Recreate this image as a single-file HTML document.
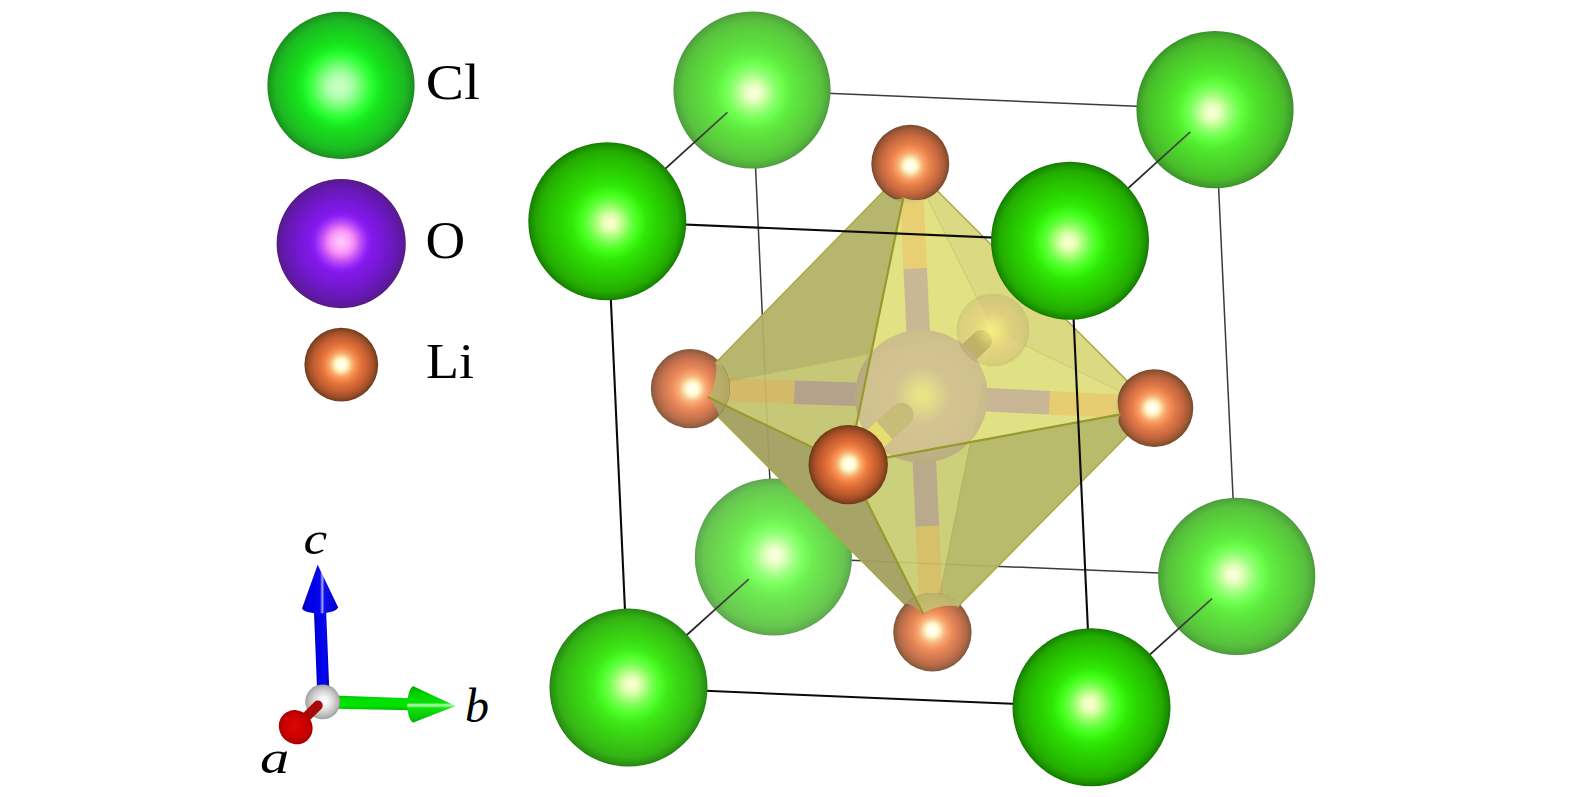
<!DOCTYPE html>
<html lang="en">
<head>
<meta charset="utf-8">
<title>Li3OCl anti-perovskite crystal structure</title>
<style>
html,body{margin:0;padding:0;background:#fff;}
body{width:1575px;height:797px;overflow:hidden;}
svg{display:block;}
.lab{font-family:"Liberation Serif",serif;font-size:52px;fill:#000;}
.it{font-family:"Liberation Serif",serif;font-style:italic;font-size:50px;fill:#000;}
.bk{stroke:#3c3c3c;stroke-width:1.5;}
.dp{stroke:#2a2a2a;stroke-width:1.8;}
.fr{stroke:#0a0a0a;stroke-width:2.1;}
.pe{stroke:#969a2c;stroke-width:2.2;stroke-linecap:round;}
.ps{stroke:#a8ac48;stroke-width:1.5;stroke-linecap:round;}
.be{stroke:#8c9030;stroke-width:1.3;stroke-opacity:0.17;}
</style>
</head>
<body>
<svg width="1575" height="797" viewBox="0 0 1575 797">
<defs><radialGradient id="gClF" cx="0.5" cy="0.5" r="0.5" fx="0.5" fy="0.5"><stop offset="0" stop-color="#fcffcc"/><stop offset="0.06" stop-color="#e4ffbc"/><stop offset="0.165" stop-color="#b0ff80"/><stop offset="0.27" stop-color="#70ff48"/><stop offset="0.37" stop-color="#40ff18"/><stop offset="0.475" stop-color="#2fe806"/><stop offset="0.61" stop-color="#2ad400"/><stop offset="0.75" stop-color="#27c200"/><stop offset="0.89" stop-color="#23ac00"/><stop offset="0.97" stop-color="#198c00"/><stop offset="1" stop-color="#137800"/></radialGradient><radialGradient id="gClB" cx="0.5" cy="0.5" r="0.5" fx="0.5" fy="0.5"><stop offset="0" stop-color="#f9ffd2"/><stop offset="0.1" stop-color="#e0ffc0"/><stop offset="0.2" stop-color="#b8ff98"/><stop offset="0.31" stop-color="#88ff68"/><stop offset="0.41" stop-color="#68ff44"/><stop offset="0.48" stop-color="#60f040"/><stop offset="0.62" stop-color="#58dc3c"/><stop offset="0.76" stop-color="#56c83c"/><stop offset="0.9" stop-color="#52b83c"/><stop offset="0.97" stop-color="#4a9c38"/><stop offset="1" stop-color="#428a32"/></radialGradient><radialGradient id="gClL" cx="0.5" cy="0.5" r="0.5" fx="0.484" fy="0.509"><stop offset="0" stop-color="#c8ffc4"/><stop offset="0.07" stop-color="#c4ffc0"/><stop offset="0.17" stop-color="#a8ffa8"/><stop offset="0.24" stop-color="#88ff88"/><stop offset="0.306" stop-color="#68ff6c"/><stop offset="0.375" stop-color="#44ff48"/><stop offset="0.44" stop-color="#28ff30"/><stop offset="0.51" stop-color="#1cf024"/><stop offset="0.61" stop-color="#16de1a"/><stop offset="0.745" stop-color="#1acc1e"/><stop offset="0.88" stop-color="#1cb822"/><stop offset="0.97" stop-color="#1c9a20"/><stop offset="1" stop-color="#1a881e"/></radialGradient><radialGradient id="gLi" cx="0.5" cy="0.5" r="0.5" fx="0.5" fy="0.54"><stop offset="0" stop-color="#fffff6"/><stop offset="0.06" stop-color="#ffffe8"/><stop offset="0.15" stop-color="#ffffcc"/><stop offset="0.22" stop-color="#ffe0a8"/><stop offset="0.3" stop-color="#ffc080"/><stop offset="0.41" stop-color="#ff9c5c"/><stop offset="0.48" stop-color="#f08850"/><stop offset="0.6" stop-color="#e07848"/><stop offset="0.75" stop-color="#cc6c38"/><stop offset="0.9" stop-color="#b05a30"/><stop offset="1" stop-color="#8c4a28"/></radialGradient><radialGradient id="gLi2" cx="0.5" cy="0.5" r="0.5" fx="0.5" fy="0.5"><stop offset="0" stop-color="#fffff6"/><stop offset="0.06" stop-color="#ffffe8"/><stop offset="0.15" stop-color="#ffffcc"/><stop offset="0.22" stop-color="#ffe0a8"/><stop offset="0.3" stop-color="#ffc080"/><stop offset="0.41" stop-color="#ff9c5c"/><stop offset="0.48" stop-color="#f08850"/><stop offset="0.6" stop-color="#e07848"/><stop offset="0.75" stop-color="#cc6c38"/><stop offset="0.9" stop-color="#b05a30"/><stop offset="1" stop-color="#8c4a28"/></radialGradient><radialGradient id="gLiN" cx="0.5" cy="0.5" r="0.5" fx="0.5" fy="0.5"><stop offset="0" stop-color="#ffffff"/><stop offset="0.11" stop-color="#ffffe0"/><stop offset="0.18" stop-color="#fff0b8"/><stop offset="0.255" stop-color="#f8c888"/><stop offset="0.33" stop-color="#f4a464"/><stop offset="0.4" stop-color="#f88c50"/><stop offset="0.475" stop-color="#ec7c40"/><stop offset="0.58" stop-color="#dc6c34"/><stop offset="0.73" stop-color="#c45c30"/><stop offset="0.875" stop-color="#a04c24"/><stop offset="0.96" stop-color="#7c401c"/><stop offset="1" stop-color="#6c3818"/></radialGradient><radialGradient id="gLiF" cx="0.5" cy="0.5" r="0.5" fx="0.5" fy="0.5"><stop offset="0" stop-color="#fffff0"/><stop offset="0.07" stop-color="#ffffe4"/><stop offset="0.19" stop-color="#fff4c8"/><stop offset="0.26" stop-color="#fcd4a0"/><stop offset="0.34" stop-color="#fcb07c"/><stop offset="0.41" stop-color="#fc9c64"/><stop offset="0.53" stop-color="#f08c58"/><stop offset="0.68" stop-color="#d88050"/><stop offset="0.83" stop-color="#c07448"/><stop offset="0.97" stop-color="#a46038"/><stop offset="1" stop-color="#96582f"/></radialGradient><radialGradient id="gO" cx="0.5" cy="0.5" r="0.5" fx="0.5" fy="0.485"><stop offset="0" stop-color="#fdc8fc"/><stop offset="0.05" stop-color="#fcc0fc"/><stop offset="0.147" stop-color="#fca0f8"/><stop offset="0.215" stop-color="#ec80f8"/><stop offset="0.285" stop-color="#c858f4"/><stop offset="0.355" stop-color="#a838f8"/><stop offset="0.42" stop-color="#8c20f4"/><stop offset="0.49" stop-color="#8218e8"/><stop offset="0.6" stop-color="#7a18dc"/><stop offset="0.73" stop-color="#7018c8"/><stop offset="0.875" stop-color="#6418b0"/><stop offset="0.98" stop-color="#5a1a90"/><stop offset="1" stop-color="#501880"/></radialGradient><radialGradient id="gO2" cx="0.5" cy="0.5" r="0.5" fx="0.51" fy="0.49"><stop offset="0" stop-color="#fff070"/><stop offset="0.1" stop-color="#f6dc80"/><stop offset="0.25" stop-color="#c898a8"/><stop offset="0.42" stop-color="#9c50b4"/><stop offset="0.7" stop-color="#9448b4"/><stop offset="0.9" stop-color="#8840a8"/><stop offset="1" stop-color="#7c3898"/></radialGradient><radialGradient id="gOin" cx="0.5" cy="0.5" r="0.5" fx="0.5" fy="0.52"><stop offset="0" stop-color="#ece488"/><stop offset="0.2" stop-color="#dcd088"/><stop offset="0.5" stop-color="#d0c08c"/><stop offset="0.85" stop-color="#c8b888"/><stop offset="1" stop-color="#bcae80"/></radialGradient><radialGradient id="gKin" cx="0.5" cy="0.5" r="0.5" fx="0.5" fy="0.5"><stop offset="0" stop-color="#f4e890"/><stop offset="0.4" stop-color="#eadc84"/><stop offset="1" stop-color="#e0d47c"/></radialGradient><radialGradient id="gGrey" cx="0.5" cy="0.5" r="0.5" fx="0.55" fy="0.46"><stop offset="0" stop-color="#ffffff"/><stop offset="0.25" stop-color="#f4f4f4"/><stop offset="0.6" stop-color="#d4d4d4"/><stop offset="0.88" stop-color="#b4b4b4"/><stop offset="1" stop-color="#9a9a9a"/></radialGradient><linearGradient id="gBlueS" x1="0" y1="0" x2="1" y2="0"><stop offset="0" stop-color="#0000b8"/><stop offset="0.3" stop-color="#0000e4"/><stop offset="0.7" stop-color="#0808f0"/><stop offset="1" stop-color="#0000c4"/></linearGradient><linearGradient id="gBlueC" x1="0" y1="0" x2="1" y2="0"><stop offset="0" stop-color="#0000c4"/><stop offset="0.3" stop-color="#0000e8"/><stop offset="0.5" stop-color="#0808ee"/><stop offset="0.56" stop-color="#a8a8ff"/><stop offset="0.62" stop-color="#1010ec"/><stop offset="1" stop-color="#0000cc"/></linearGradient><linearGradient id="gGreenS" x1="0" y1="0" x2="0" y2="1"><stop offset="0" stop-color="#10b810"/><stop offset="0.25" stop-color="#00e000"/><stop offset="0.7" stop-color="#00e400"/><stop offset="1" stop-color="#00b800"/></linearGradient><linearGradient id="gGreenC" x1="0" y1="0" x2="0" y2="1"><stop offset="0" stop-color="#00a800"/><stop offset="0.25" stop-color="#00d400"/><stop offset="0.46" stop-color="#08e008"/><stop offset="0.52" stop-color="#b8ffb8"/><stop offset="0.6" stop-color="#10e410"/><stop offset="1" stop-color="#00b400"/></linearGradient><radialGradient id="gRed" cx="0.5" cy="0.5" r="0.5" fx="0.5" fy="0.45"><stop offset="0" stop-color="#dc0808"/><stop offset="0.6" stop-color="#cc0000"/><stop offset="0.9" stop-color="#b80000"/><stop offset="1" stop-color="#a80000"/></radialGradient></defs>
<rect width="1575" height="797" fill="#ffffff"/>
<circle cx="341.0" cy="85.4" r="73.6" fill="url(#gClL)" />
<circle cx="341.2" cy="243.6" r="64.6" fill="url(#gO)" />
<radialGradient id="s1" cx="0.5" cy="0.5" r="0.5" fx="0.5" fy="0.5"><stop offset="0" stop-color="#ffffff"/><stop offset="0.11" stop-color="#ffffe0"/><stop offset="0.18" stop-color="#fff0b9"/><stop offset="0.255" stop-color="#f8c98a"/><stop offset="0.33" stop-color="#f4a566"/><stop offset="0.4" stop-color="#f88e53"/><stop offset="0.475" stop-color="#ec7e43"/><stop offset="0.58" stop-color="#dd6e37"/><stop offset="0.73" stop-color="#c55f33"/><stop offset="0.875" stop-color="#a24f28"/><stop offset="0.96" stop-color="#7e4320"/><stop offset="1" stop-color="#6e3b1c"/></radialGradient><circle cx="341.3" cy="364.6" r="36.9" fill="url(#s1)" />
<text transform="translate(425.80,99.00) scale(1.128,1)" font-family="Liberation Serif, serif" font-size="50.7" fill="#000">Cl</text>
<text transform="translate(425.60,258.00) scale(1.056,1)" font-family="Liberation Serif, serif" font-size="52" fill="#000">O</text>
<text transform="translate(426.10,377.90) scale(1.08,1)" font-family="Liberation Serif, serif" font-size="50" fill="#000">Li</text>
<polygon points="313.9,610.0 326.1,610.0 329.3,690.0 317.1,690.0" fill="url(#gBlueS)" />
<path d="M317.7,564.8 L338.2,607.6 Q336,612.4 320,613.6 Q304,612.8 302,608.4 Z" fill="url(#gBlueC)"/>
<polygon points="334.0,695.5 410.0,698.2 410.0,710.3 334.0,708.8" fill="url(#gGreenS)" />
<path d="M455.6,705.9 L412.9,722.8 Q407.6,719 407.2,704.4 Q407.8,690 412.9,685.9 Z" fill="url(#gGreenC)"/>
<circle cx="322.7" cy="701.9" r="17.4" fill="url(#gGrey)" />
<line x1="299" y1="724" x2="317.8" y2="705.4" stroke="#a80808" stroke-width="9.8" stroke-linecap="round"/>
<ellipse cx="295.7" cy="727.2" rx="16.4" ry="17.6" fill="url(#gRed)" transform="rotate(-40 295.7 727.2)"/>
<text transform="translate(303.50,554.00) scale(1.14,1)" font-family="Liberation Serif, serif" font-size="46.7" font-style="italic" fill="#000">c</text>
<text transform="translate(465.00,721.80) scale(1.0,1)" font-family="Liberation Serif, serif" font-size="48" font-style="italic" fill="#000">b</text>
<text transform="translate(260.10,773.00) scale(1.236,1)" font-family="Liberation Serif, serif" font-size="47.4" font-style="italic" fill="#000">a</text>
<line x1="752.0" y1="90.0" x2="1215.0" y2="109.6" class="bk"/>
<line x1="752.0" y1="90.0" x2="773.4" y2="557.0" class="bk"/>
<line x1="1215.0" y1="109.6" x2="1236.7" y2="576.3" class="bk"/>
<line x1="773.4" y1="557.0" x2="1236.7" y2="576.3" class="bk"/>
<radialGradient id="s2" cx="0.5" cy="0.5" r="0.5" fx="0.5121055979643766" fy="0.5216921119592876"><stop offset="0" stop-color="#fdffd8"/><stop offset="0.05" stop-color="#f5ffd4"/><stop offset="0.11" stop-color="#e1ffbd"/><stop offset="0.18" stop-color="#bdff99"/><stop offset="0.27" stop-color="#8fff71"/><stop offset="0.37" stop-color="#6eff50"/><stop offset="0.475" stop-color="#61ee42"/><stop offset="0.61" stop-color="#5dde3d"/><stop offset="0.75" stop-color="#5bd13d"/><stop offset="0.89" stop-color="#58c03d"/><stop offset="0.97" stop-color="#50a83d"/><stop offset="1" stop-color="#4c993d"/></radialGradient><circle cx="752.0" cy="90.0" r="78.6" fill="url(#s2)" />
<radialGradient id="s3" cx="0.5" cy="0.5" r="0.5" fx="0.47970737913486006" fy="0.5203206106870228"><stop offset="0" stop-color="#fcffd4"/><stop offset="0.05" stop-color="#f4ffcf"/><stop offset="0.11" stop-color="#deffb6"/><stop offset="0.18" stop-color="#b6ff8e"/><stop offset="0.27" stop-color="#84ff63"/><stop offset="0.37" stop-color="#60ff3e"/><stop offset="0.475" stop-color="#52ec2f"/><stop offset="0.61" stop-color="#4ddb2a"/><stop offset="0.75" stop-color="#4bcc2a"/><stop offset="0.89" stop-color="#48ba2a"/><stop offset="0.97" stop-color="#3f9f2a"/><stop offset="1" stop-color="#3a8e2a"/></radialGradient><circle cx="1215.0" cy="109.6" r="78.6" fill="url(#s3)" />
<radialGradient id="s4" cx="0.5" cy="0.5" r="0.5" fx="0.5106081424936387" fy="0.4890139949109415"><stop offset="0" stop-color="#fdffdc"/><stop offset="0.05" stop-color="#f6ffd8"/><stop offset="0.11" stop-color="#e4ffc3"/><stop offset="0.18" stop-color="#c3ffa2"/><stop offset="0.27" stop-color="#99ff7e"/><stop offset="0.37" stop-color="#7bff5f"/><stop offset="0.475" stop-color="#6fef53"/><stop offset="0.61" stop-color="#6ce14f"/><stop offset="0.75" stop-color="#6ad54f"/><stop offset="0.89" stop-color="#67c64f"/><stop offset="0.97" stop-color="#60b04f"/><stop offset="1" stop-color="#5ca24f"/></radialGradient><circle cx="773.4" cy="557.0" r="78.6" fill="url(#s4)" />
<radialGradient id="s5" cx="0.5" cy="0.5" r="0.5" fx="0.4781889312977099" fy="0.4876634860050891"><stop offset="0" stop-color="#fdffd8"/><stop offset="0.05" stop-color="#f5ffd3"/><stop offset="0.11" stop-color="#e1ffbc"/><stop offset="0.18" stop-color="#bcff98"/><stop offset="0.27" stop-color="#8eff70"/><stop offset="0.37" stop-color="#6dff4e"/><stop offset="0.475" stop-color="#60ed40"/><stop offset="0.61" stop-color="#5cde3c"/><stop offset="0.75" stop-color="#5ad03c"/><stop offset="0.89" stop-color="#57bf3c"/><stop offset="0.97" stop-color="#4fa73c"/><stop offset="1" stop-color="#4a983c"/></radialGradient><circle cx="1236.7" cy="576.3" r="78.6" fill="url(#s5)" />
<linearGradient id="dl0" gradientUnits="userSpaceOnUse" x1="607.3" y1="221.3" x2="727.4" y2="112.3"><stop offset="0.35" stop-color="#101010"/><stop offset="1" stop-color="#505050"/></linearGradient>
<line x1="607.3" y1="221.3" x2="727.4" y2="112.3" stroke="url(#dl0)" stroke-width="1.8"/>
<linearGradient id="dl1" gradientUnits="userSpaceOnUse" x1="1070.0" y1="240.8" x2="1190.3" y2="131.9"><stop offset="0.35" stop-color="#101010"/><stop offset="1" stop-color="#505050"/></linearGradient>
<line x1="1070.0" y1="240.8" x2="1190.3" y2="131.9" stroke="url(#dl1)" stroke-width="1.8"/>
<linearGradient id="dl2" gradientUnits="userSpaceOnUse" x1="628.5" y1="687.5" x2="748.8" y2="579.2"><stop offset="0.35" stop-color="#101010"/><stop offset="1" stop-color="#505050"/></linearGradient>
<line x1="628.5" y1="687.5" x2="748.8" y2="579.2" stroke="url(#dl2)" stroke-width="1.8"/>
<linearGradient id="dl3" gradientUnits="userSpaceOnUse" x1="1091.5" y1="707.2" x2="1212.0" y2="598.6"><stop offset="0.35" stop-color="#101010"/><stop offset="1" stop-color="#505050"/></linearGradient>
<line x1="1091.5" y1="707.2" x2="1212.0" y2="598.6" stroke="url(#dl3)" stroke-width="1.8"/>
<defs><clipPath id="cTLF"><polygon points="910.3,163.7 690.4,388.7 848.2,464.6"/></clipPath><clipPath id="cTFR"><polygon points="910.3,163.7 848.2,464.6 1154.4,408.1"/></clipPath><clipPath id="cLFB"><polygon points="690.4,388.7 848.2,464.6 932.4,632.3"/></clipPath><clipPath id="cFRB"><polygon points="848.2,464.6 1154.4,408.1 932.4,632.3"/></clipPath></defs>
<polygon points="910.3,163.7 1154.4,408.1 932.4,632.3 690.4,388.7" fill="#dcdc84" fill-opacity="0.95"/>
<g clip-path="url(#cTLF)"><polygon points="910.3,163.7 690.4,388.7 993.0,330.0" fill="#b6b66e" stroke="#b6b66e" stroke-width="0.8"/><polygon points="690.4,388.7 993.0,330.0 932.4,632.3" fill="#c6c878" stroke="#c6c878" stroke-width="0.8"/><polygon points="910.3,163.7 993.0,330.0 1154.4,408.1" fill="#b6b66e" stroke="#b6b66e" stroke-width="0.8"/><polygon points="993.0,330.0 1154.4,408.1 932.4,632.3" fill="#c6c878" stroke="#c6c878" stroke-width="0.8"/></g>
<g clip-path="url(#cTFR)"><polygon points="910.3,163.7 690.4,388.7 993.0,330.0" fill="#e2e286" stroke="#e2e286" stroke-width="0.8"/><polygon points="910.3,163.7 993.0,330.0 1154.4,408.1" fill="#dbda83" stroke="#dbda83" stroke-width="0.8"/><polygon points="993.0,330.0 1154.4,408.1 932.4,632.3" fill="#e0e084" stroke="#e0e084" stroke-width="0.8"/><polygon points="690.4,388.7 993.0,330.0 932.4,632.3" fill="#e4e488" stroke="#e4e488" stroke-width="0.8"/></g>
<g clip-path="url(#cFRB)"><polygon points="690.4,388.7 993.0,330.0 932.4,632.3" fill="#ccd07a" stroke="#ccd07a" stroke-width="0.8"/><polygon points="993.0,330.0 1154.4,408.1 932.4,632.3" fill="#b9bb6c" stroke="#b9bb6c" stroke-width="0.8"/><polygon points="910.3,163.7 690.4,388.7 993.0,330.0" fill="#ccd07a" stroke="#ccd07a" stroke-width="0.8"/><polygon points="910.3,163.7 993.0,330.0 1154.4,408.1" fill="#b9bb6c" stroke="#b9bb6c" stroke-width="0.8"/></g>
<g clip-path="url(#cLFB)"><polygon points="690.4,388.7 993.0,330.0 932.4,632.3" fill="#a8a468" stroke="#a8a468" stroke-width="0.8"/><polygon points="993.0,330.0 1154.4,408.1 932.4,632.3" fill="#a8a468" stroke="#a8a468" stroke-width="0.8"/><polygon points="910.3,163.7 690.4,388.7 993.0,330.0" fill="#a8a468" stroke="#a8a468" stroke-width="0.8"/><polygon points="910.3,163.7 993.0,330.0 1154.4,408.1" fill="#a8a468" stroke="#a8a468" stroke-width="0.8"/></g>
<clipPath id="cHull"><polygon points="910.3,163.7 1154.4,408.1 932.4,632.3 690.4,388.7"/></clipPath>
<g opacity="0.09" clip-path="url(#cHull)"><line x1="752.0" y1="90.0" x2="769.1" y2="463.6" class="bk"/><line x1="856.8" y1="560.5" x2="1236.7" y2="576.3" class="bk"/></g>
<line x1="910.3" y1="163.7" x2="977.4" y2="298.7" class="be"/>
<line x1="1154.4" y1="408.1" x2="1024.5" y2="345.2" class="be"/>
<line x1="690.4" y1="388.7" x2="870.2" y2="353.8" class="be"/>
<line x1="932.4" y1="632.3" x2="970.8" y2="440.8" class="be"/>
<g opacity="0.17"><radialGradient id="s6" cx="0.5" cy="0.5" r="0.5" fx="0.5" fy="0.5"><stop offset="0" stop-color="#ffffff"/><stop offset="0.11" stop-color="#ffffe7"/><stop offset="0.18" stop-color="#fff4c9"/><stop offset="0.255" stop-color="#fad5a4"/><stop offset="0.33" stop-color="#f7ba89"/><stop offset="0.4" stop-color="#faa77a"/><stop offset="0.475" stop-color="#f19b6d"/><stop offset="0.58" stop-color="#e48f64"/><stop offset="0.73" stop-color="#d28361"/><stop offset="0.875" stop-color="#b77758"/><stop offset="0.96" stop-color="#9b6d52"/><stop offset="1" stop-color="#8f674f"/></radialGradient><circle cx="993.0" cy="330.0" r="36.0" fill="url(#s6)" /></g>
<circle cx="993.0" cy="330.0" r="36" fill="none" stroke="#b0a040" stroke-opacity="0.14" stroke-width="1.5"/>
<clipPath id="cNotO"><path clip-rule="evenodd" d="M0,0H1575V797H0Z M854.8,396.4 a66.5,66.5 0 1,0 133.0,0 a66.5,66.5 0 1,0 -133.0,0Z"/></clipPath>
<g clip-path="url(#cNotO)"><line x1="966" y1="355" x2="981.5" y2="340.6" stroke="#b4a660" stroke-width="21" stroke-linecap="round" stroke-opacity="0.75"/></g>
<radialGradient id="gKh"><stop offset="0" stop-color="#faf07c" stop-opacity="0.9"/><stop offset="0.5" stop-color="#f4e674" stop-opacity="0.45"/><stop offset="1" stop-color="#f0e070" stop-opacity="0"/></radialGradient>
<circle cx="992.0" cy="331.0" r="20.0" fill="url(#gKh)" />
<g opacity="0.21"><line x1="910.3" y1="163.7" x2="915.2" y2="268.4" stroke="#ff8a30" stroke-width="23.5"/><line x1="915.2" y1="268.4" x2="921.3" y2="396.4" stroke="#7420d0" stroke-width="23.5" /><line x1="690.4" y1="388.7" x2="794.3" y2="392.2" stroke="#ff8a30" stroke-width="23.5"/><line x1="794.3" y1="392.2" x2="921.3" y2="396.4" stroke="#7420d0" stroke-width="23.5" /><line x1="1154.4" y1="408.1" x2="1049.5" y2="402.8" stroke="#ff8a30" stroke-width="23.5"/><line x1="1049.5" y1="402.8" x2="921.3" y2="396.4" stroke="#7420d0" stroke-width="23.5" /><line x1="932.4" y1="632.3" x2="927.4" y2="526.1" stroke="#ff8a30" stroke-width="23.5"/><line x1="927.4" y1="526.1" x2="921.3" y2="396.4" stroke="#7420d0" stroke-width="23.5" /><circle cx="921.3" cy="396.4" r="66.5" fill="url(#gO2)" /></g>
<line x1="880" y1="434.5" x2="901.5" y2="414.8" stroke="#c8bc78" stroke-width="24" stroke-linecap="round"/>
<line x1="862" y1="451" x2="884.5" y2="430.4" stroke="#e8de70" stroke-width="24"/>
<line x1="910.3" y1="163.7" x2="848.2" y2="464.6" class="pe"/>
<line x1="690.4" y1="388.7" x2="848.2" y2="464.6" class="pe"/>
<line x1="848.2" y1="464.6" x2="1154.4" y2="408.1" class="pe"/>
<line x1="848.2" y1="464.6" x2="932.4" y2="632.3" class="pe"/>
<line x1="910.3" y1="163.7" x2="690.4" y2="388.7" class="ps"/>
<line x1="910.3" y1="163.7" x2="1154.4" y2="408.1" class="ps"/>
<line x1="690.4" y1="388.7" x2="932.4" y2="632.3" class="ps"/>
<line x1="1154.4" y1="408.1" x2="932.4" y2="632.3" class="ps"/>
<radialGradient id="s7" cx="0.5" cy="0.5" r="0.5" fx="0.5020730769230769" fy="0.5333243589743589"><stop offset="0" stop-color="#ffffff"/><stop offset="0.11" stop-color="#ffffe3"/><stop offset="0.18" stop-color="#fff1be"/><stop offset="0.255" stop-color="#f9cd92"/><stop offset="0.33" stop-color="#f5ac71"/><stop offset="0.4" stop-color="#f9965f"/><stop offset="0.475" stop-color="#ee8750"/><stop offset="0.58" stop-color="#df7945"/><stop offset="0.73" stop-color="#c96a42"/><stop offset="0.875" stop-color="#a85b37"/><stop offset="0.96" stop-color="#87502f"/><stop offset="1" stop-color="#79492c"/></radialGradient><circle cx="910.3" cy="163.7" r="39.0" fill="url(#s7)" />
<radialGradient id="s8" cx="0.5" cy="0.5" r="0.5" fx="0.5325833333333333" fy="0.5015694444444444"><stop offset="0" stop-color="#ffffff"/><stop offset="0.11" stop-color="#ffffe5"/><stop offset="0.18" stop-color="#fff2c3"/><stop offset="0.255" stop-color="#f9d19b"/><stop offset="0.33" stop-color="#f6b27c"/><stop offset="0.4" stop-color="#f99e6c"/><stop offset="0.475" stop-color="#ef915e"/><stop offset="0.58" stop-color="#e28354"/><stop offset="0.73" stop-color="#cd7651"/><stop offset="0.875" stop-color="#af6846"/><stop offset="0.96" stop-color="#915e40"/><stop offset="1" stop-color="#83573c"/></radialGradient><circle cx="690.4" cy="388.7" r="39.6" fill="url(#s8)" />
<radialGradient id="s9" cx="0.5" cy="0.5" r="0.5" fx="0.4675655526992288" fy="0.4988547557840617"><stop offset="0" stop-color="#ffffff"/><stop offset="0.11" stop-color="#ffffe3"/><stop offset="0.18" stop-color="#fff1be"/><stop offset="0.255" stop-color="#f9cd92"/><stop offset="0.33" stop-color="#f5ac71"/><stop offset="0.4" stop-color="#f9955e"/><stop offset="0.475" stop-color="#ee8750"/><stop offset="0.58" stop-color="#df7845"/><stop offset="0.73" stop-color="#c96941"/><stop offset="0.875" stop-color="#a85b36"/><stop offset="0.96" stop-color="#87502f"/><stop offset="1" stop-color="#78482b"/></radialGradient><circle cx="1154.4" cy="408.1" r="38.9" fill="url(#s9)" />
<radialGradient id="s10" cx="0.5" cy="0.5" r="0.5" fx="0.49896173469387756" fy="0.46740688775510203"><stop offset="0" stop-color="#ffffff"/><stop offset="0.11" stop-color="#ffffe5"/><stop offset="0.18" stop-color="#fff2c3"/><stop offset="0.255" stop-color="#f9d09a"/><stop offset="0.33" stop-color="#f6b27c"/><stop offset="0.4" stop-color="#f99e6b"/><stop offset="0.475" stop-color="#ef905d"/><stop offset="0.58" stop-color="#e18353"/><stop offset="0.73" stop-color="#cd7550"/><stop offset="0.875" stop-color="#af6846"/><stop offset="0.96" stop-color="#905d3f"/><stop offset="1" stop-color="#83573c"/></radialGradient><circle cx="932.4" cy="632.3" r="39.2" fill="url(#s10)" />
<radialGradient id="s11" cx="0.5" cy="0.5" r="0.5" fx="0.510639798488665" fy="0.49105037783375316"><stop offset="0" stop-color="#ffffff"/><stop offset="0.11" stop-color="#ffffe0"/><stop offset="0.18" stop-color="#fff0b8"/><stop offset="0.255" stop-color="#f8c888"/><stop offset="0.33" stop-color="#f4a464"/><stop offset="0.4" stop-color="#f88c50"/><stop offset="0.475" stop-color="#ec7c40"/><stop offset="0.58" stop-color="#dc6c34"/><stop offset="0.73" stop-color="#c45c30"/><stop offset="0.875" stop-color="#a04c24"/><stop offset="0.96" stop-color="#7c401c"/><stop offset="1" stop-color="#6c3818"/></radialGradient><circle cx="848.2" cy="464.6" r="39.7" fill="url(#s11)" />
<polygon points="927.8,198.9 928.1,198.7 928.4,198.6 928.6,198.5 928.9,198.3 929.2,198.2 929.5,198.0 929.8,197.8 930.0,197.7 930.3,197.5 930.6,197.4 930.9,197.2 931.1,197.0 931.4,196.9 931.7,196.7 931.9,196.5 932.2,196.3 932.5,196.2 932.7,196.0 933.0,195.8 933.2,195.6 933.5,195.4 933.7,195.2 934.0,195.0 934.3,194.9 934.5,194.7 934.8,194.5 935.0,194.3 935.2,194.1 935.5,193.9 935.7,193.7 936.0,193.5 936.2,193.2 936.5,193.0 936.7,192.8 936.9,192.6 937.2,192.4 937.4,192.2 937.6,192.0 937.8,191.7 938.1,191.5 938.1,191.5 937.8,191.7 937.6,192.0 937.4,192.2 937.2,192.4 936.9,192.6 936.7,192.8 936.5,193.0 936.2,193.2 936.0,193.5 935.7,193.7 935.5,193.9 935.2,194.1 935.0,194.3 934.8,194.5 934.5,194.7 934.3,194.9 934.0,195.0 933.7,195.2 933.5,195.4 933.2,195.6 933.0,195.8 932.7,196.0 932.5,196.2 932.2,196.3 931.9,196.5 931.7,196.7 931.4,196.9 931.1,197.0 930.9,197.2 930.6,197.4 930.3,197.5 930.0,197.7 929.8,197.8 929.5,198.0 929.2,198.2 928.9,198.3 928.6,198.5 928.4,198.6 928.1,198.7 927.8,198.9" fill="#d8d880" fill-opacity="0.84"/>
<polygon points="717.9,360.6 718.3,361.0 718.7,361.4 719.1,361.9 719.5,362.3 719.9,362.8 720.3,363.2 720.7,363.7 721.1,364.1 721.4,364.6 721.8,365.1 722.1,365.5 722.5,366.0 722.8,366.5 723.2,367.0 723.5,367.5 723.8,368.0 724.1,368.5 724.4,369.0 724.7,369.5 725.0,370.1 725.3,370.6 725.5,371.1 725.8,371.6 726.1,372.2 726.3,372.7 726.5,373.3 726.8,373.8 727.0,374.4 727.2,374.9 727.4,375.5 727.6,376.0 727.8,376.6 728.0,377.2 728.1,377.7 728.3,378.3 728.5,378.9 728.6,379.5 728.7,380.1 728.9,380.6 729.0,381.2 729.0,381.2 728.9,380.6 728.7,380.1 728.6,379.5 728.5,378.9 728.3,378.3 728.1,377.7 728.0,377.2 727.8,376.6 727.6,376.0 727.4,375.5 727.2,374.9 727.0,374.4 726.8,373.8 726.5,373.3 726.3,372.7 726.1,372.2 725.8,371.6 725.5,371.1 725.3,370.6 725.0,370.1 724.7,369.5 724.4,369.0 724.1,368.5 723.7,368.0 723.4,367.6 723.0,367.1 722.5,366.7 722.1,366.3 721.6,365.9 721.2,365.5 720.7,365.2 720.1,364.9 719.6,364.6 719.1,364.3 718.5,364.0 717.9,363.8 717.3,363.5 716.8,363.3 716.2,363.1 715.6,363.0" fill="#d8d880" fill-opacity="0.84"/>
<polygon points="729.0,381.2 729.2,382.2 729.3,383.1 729.4,384.1 729.5,385.0 729.6,386.0 729.7,386.9 729.7,387.9 729.7,388.9 729.7,389.8 729.6,390.8 729.6,391.8 729.5,392.7 729.4,393.7 729.2,394.6 729.1,395.6 728.9,396.5 728.7,397.5 728.5,398.4 728.2,399.3 728.0,400.3 727.7,401.2 727.4,402.1 727.0,403.0 726.6,403.9 726.3,404.8 725.9,405.6 725.4,406.5 725.0,407.4 724.5,408.2 724.0,409.0 723.5,409.8 723.0,410.7 722.5,411.4 721.9,412.2 721.3,413.0 720.7,413.7 720.1,414.5 719.4,415.2 718.8,415.9 718.1,416.6 718.1,416.6 718.8,415.9 719.4,415.2 720.1,414.5 720.7,413.7 721.3,413.0 721.9,412.2 722.5,411.4 723.0,410.7 723.5,409.8 724.0,409.0 724.5,408.2 725.0,407.4 725.4,406.5 725.9,405.6 726.3,404.8 726.6,403.9 727.0,403.0 727.4,402.1 727.7,401.2 728.0,400.3 728.2,399.3 728.5,398.4 728.7,397.5 728.9,396.5 729.1,395.6 729.2,394.6 729.4,393.7 729.5,392.7 729.6,391.8 729.6,390.8 729.7,389.8 729.7,388.9 729.7,387.9 729.7,386.9 729.6,386.0 729.5,385.0 729.4,384.1 729.3,383.1 729.2,382.2 729.0,381.2" fill="#c8c878" fill-opacity="0.84"/>
<polygon points="940.1,593.8 940.7,593.9 941.2,594.0 941.8,594.1 942.4,594.3 942.9,594.4 943.5,594.6 944.0,594.8 944.6,594.9 945.1,595.1 945.6,595.3 946.2,595.5 946.7,595.7 947.2,595.9 947.8,596.1 948.3,596.4 948.8,596.6 949.3,596.8 949.8,597.1 950.4,597.3 950.9,597.6 951.4,597.9 951.9,598.2 952.4,598.4 952.9,598.7 953.3,599.0 953.8,599.4 954.3,599.7 954.8,600.0 955.2,600.3 955.7,600.7 956.2,601.0 956.6,601.3 957.1,601.7 957.5,602.1 957.9,602.4 958.4,602.8 958.8,603.2 959.2,603.6 959.6,604.0 960.1,604.4 957.7,606.7 957.6,606.1 957.4,605.5 957.2,605.0 957.0,604.4 956.7,603.8 956.5,603.3 956.2,602.8 955.9,602.2 955.6,601.7 955.3,601.3 954.9,600.8 954.5,600.3 954.1,599.9 953.7,599.5 953.3,599.1 952.8,598.8 952.4,598.5 951.9,598.2 951.4,597.9 950.9,597.6 950.4,597.3 949.8,597.1 949.3,596.8 948.8,596.6 948.3,596.4 947.8,596.1 947.2,595.9 946.7,595.7 946.2,595.5 945.6,595.3 945.1,595.1 944.6,594.9 944.0,594.8 943.5,594.6 942.9,594.4 942.4,594.3 941.8,594.1 941.2,594.0 940.7,593.9 940.1,593.8" fill="#c0c070" fill-opacity="0.84"/>
<polygon points="882.8,191.8 883.2,192.2 883.6,192.6 884.1,193.0 884.5,193.3 884.9,193.7 885.3,194.1 885.8,194.4 886.2,194.8 886.7,195.1 887.1,195.4 887.6,195.8 888.0,196.1 888.5,196.4 889.0,196.7 889.4,197.0 889.9,197.3 890.4,197.6 890.9,197.9 891.4,198.1 891.8,198.4 892.3,198.7 892.8,198.9 893.3,199.2 893.9,199.4 894.4,199.6 894.9,199.8 895.4,200.1 895.9,200.3 896.4,200.5 897.0,200.7 897.5,200.9 898.0,201.0 898.6,201.2 899.1,201.4 899.6,201.5 900.2,201.7 900.7,201.8 901.3,201.9 901.8,202.1 902.4,202.2 903.3,197.8 902.7,198.0 902.1,198.2 901.6,198.4 901.0,198.6 900.4,198.7 899.8,198.9 899.3,199.0 898.7,199.1 898.1,199.2 897.5,199.2 896.9,199.3 896.3,199.3 895.7,199.3 895.2,199.2 894.6,199.1 894.0,199.0 893.5,198.9 892.9,198.8 892.4,198.6 891.9,198.4 891.4,198.1 890.9,197.9 890.4,197.6 889.9,197.3 889.4,197.0 889.0,196.7 888.5,196.4 888.0,196.1 887.6,195.8 887.1,195.4 886.7,195.1 886.2,194.8 885.8,194.4 885.3,194.1 884.9,193.7 884.5,193.3 884.1,193.0 883.6,192.6 883.2,192.2 882.8,191.8" fill="#b6b66e" fill-opacity="0.84"/>
<polygon points="902.4,202.2 903.3,202.4 904.3,202.5 905.2,202.7 906.2,202.8 907.2,202.9 908.1,202.9 909.1,203.0 910.1,203.0 911.0,203.0 912.0,203.0 913.0,202.9 913.9,202.8 914.9,202.7 915.9,202.6 916.8,202.5 917.8,202.3 918.7,202.1 919.7,201.9 920.6,201.6 921.6,201.4 922.5,201.1 923.4,200.7 924.3,200.4 925.2,200.1 926.1,199.7 927.0,199.3 927.9,198.9 928.7,198.4 929.6,197.9 930.4,197.5 931.3,196.9 932.1,196.4 932.9,195.9 933.7,195.3 934.4,194.7 935.2,194.1 935.9,193.5 936.7,192.8 937.4,192.2 938.1,191.5 938.1,191.5 937.4,192.2 936.6,192.8 935.9,193.4 935.1,194.0 934.3,194.6 933.5,195.1 932.7,195.6 931.9,196.1 931.0,196.6 930.1,197.0 929.3,197.4 928.4,197.8 927.5,198.1 926.6,198.4 925.7,198.7 924.8,198.9 923.8,199.2 922.9,199.4 922.0,199.5 921.1,199.7 920.1,199.8 919.2,199.9 918.3,200.0 917.4,200.0 916.4,200.0 915.5,200.0 914.6,200.0 913.7,199.9 912.8,199.9 911.9,199.8 911.0,199.7 910.1,199.5 909.2,199.4 908.3,199.2 907.5,199.0 906.6,198.8 905.8,198.6 904.9,198.3 904.1,198.1 903.3,197.8" fill="#e2e286" fill-opacity="0.84"/>
<polygon points="717.9,360.6 718.7,361.5 719.6,362.4 720.4,363.3 721.1,364.2 721.9,365.2 722.6,366.2 723.3,367.2 723.9,368.2 724.6,369.3 725.2,370.4 725.7,371.4 726.2,372.6 726.7,373.7 727.2,374.8 727.6,376.0 728.0,377.1 728.3,378.3 728.6,379.5 728.9,380.7 729.1,381.9 729.3,383.1 729.5,384.3 729.6,385.5 729.7,386.7 729.7,388.0 729.7,389.2 729.7,390.4 729.6,391.6 729.5,392.9 729.3,394.1 729.1,395.3 728.9,396.5 728.7,397.7 728.4,398.9 728.0,400.0 727.7,401.2 727.3,402.4 726.8,403.5 726.3,404.6 725.8,405.7 708.3,397.3 708.6,396.8 708.9,396.2 709.2,395.7 709.5,395.1 709.8,394.5 710.0,394.0 710.3,393.4 710.6,392.8 710.9,392.2 711.1,391.6 711.4,390.9 711.7,390.3 711.9,389.6 712.2,389.0 712.5,388.3 712.7,387.6 713.0,386.9 713.3,386.1 713.5,385.4 713.8,384.6 714.0,383.8 714.3,382.9 714.5,382.1 714.8,381.2 715.0,380.3 715.2,379.3 715.4,378.4 715.6,377.3 715.8,376.3 715.9,375.2 716.1,374.1 716.2,373.0 716.3,371.8 716.3,370.6 716.3,369.3 716.3,368.1 716.2,366.8 716.1,365.5 715.9,364.2 715.6,363.0" fill="#b6b66e" fill-opacity="0.84"/>
<polygon points="725.8,405.7 725.7,406.0 725.5,406.3 725.4,406.6 725.2,406.9 725.1,407.2 724.9,407.5 724.7,407.8 724.6,408.1 724.4,408.4 724.2,408.7 724.1,409.0 723.9,409.3 723.7,409.5 723.5,409.8 723.4,410.1 723.2,410.4 723.0,410.7 722.8,410.9 722.6,411.2 722.4,411.5 722.2,411.8 722.0,412.0 721.8,412.3 721.6,412.6 721.4,412.8 721.2,413.1 721.0,413.4 720.8,413.6 720.6,413.9 720.4,414.1 720.1,414.4 719.9,414.6 719.7,414.9 719.5,415.1 719.3,415.4 719.0,415.6 718.8,415.9 718.6,416.1 718.3,416.3 718.1,416.6 718.1,416.6 718.3,416.3 718.4,416.0 718.5,415.6 718.5,415.1 718.5,414.7 718.4,414.2 718.3,413.6 718.2,413.1 718.0,412.5 717.7,411.9 717.5,411.3 717.2,410.7 716.9,410.1 716.6,409.4 716.3,408.8 715.9,408.2 715.6,407.6 715.2,407.0 714.9,406.4 714.5,405.9 714.1,405.3 713.8,404.7 713.4,404.2 713.1,403.7 712.7,403.2 712.4,402.7 712.1,402.2 711.7,401.8 711.4,401.3 711.1,400.9 710.8,400.5 710.5,400.1 710.2,399.7 709.9,399.3 709.6,399.0 709.3,398.6 709.1,398.3 708.8,397.9 708.6,397.6 708.3,397.3" fill="#a8a468" fill-opacity="0.84"/>
<polygon points="1126.6,380.3 1126.0,381.0 1125.3,381.7 1124.7,382.4 1124.1,383.1 1123.5,383.9 1122.9,384.6 1122.3,385.4 1121.8,386.2 1121.3,387.0 1120.8,387.8 1120.3,388.6 1119.8,389.4 1119.4,390.3 1119.0,391.1 1118.6,392.0 1118.2,392.8 1117.8,393.7 1117.5,394.6 1117.2,395.5 1116.9,396.4 1116.6,397.3 1116.4,398.2 1116.1,399.2 1115.9,400.1 1115.7,401.0 1115.6,402.0 1115.4,402.9 1115.3,403.9 1115.2,404.8 1115.2,405.8 1115.1,406.7 1115.1,407.7 1115.1,408.6 1115.1,409.6 1115.2,410.5 1115.2,411.5 1115.3,412.4 1115.5,413.4 1115.6,414.3 1115.8,415.2 1119.8,414.5 1119.5,413.7 1119.3,412.8 1119.0,412.0 1118.8,411.2 1118.6,410.3 1118.4,409.4 1118.3,408.6 1118.1,407.7 1118.0,406.8 1117.9,405.9 1117.8,405.0 1117.8,404.1 1117.7,403.2 1117.7,402.3 1117.7,401.4 1117.8,400.5 1117.8,399.6 1117.9,398.7 1118.0,397.7 1118.2,396.8 1118.3,395.9 1118.5,395.0 1118.7,394.1 1119.0,393.2 1119.3,392.3 1119.6,391.4 1119.9,390.5 1120.3,389.6 1120.6,388.8 1121.1,387.9 1121.5,387.1 1122.0,386.3 1122.5,385.5 1123.0,384.7 1123.5,383.9 1124.1,383.1 1124.7,382.4 1125.3,381.7 1126.0,381.0 1126.6,380.3" fill="#e2e286" fill-opacity="0.84"/>
<polygon points="1115.8,415.2 1115.9,415.8 1116.0,416.4 1116.1,417.0 1116.3,417.6 1116.4,418.1 1116.6,418.7 1116.7,419.3 1116.9,419.9 1117.1,420.4 1117.3,421.0 1117.5,421.6 1117.7,422.1 1117.9,422.7 1118.1,423.2 1118.4,423.8 1118.6,424.3 1118.9,424.9 1119.1,425.4 1119.4,425.9 1119.7,426.5 1119.9,427.0 1120.2,427.5 1120.5,428.0 1120.8,428.5 1121.2,429.1 1121.5,429.6 1121.8,430.1 1122.1,430.5 1122.5,431.0 1122.8,431.5 1123.2,432.0 1123.6,432.5 1123.9,432.9 1124.3,433.4 1124.7,433.8 1125.1,434.3 1125.5,434.7 1125.9,435.2 1126.3,435.6 1126.7,436.0 1126.7,436.0 1126.3,435.6 1125.9,435.2 1125.5,434.7 1125.1,434.3 1124.7,433.8 1124.3,433.4 1123.9,432.9 1123.6,432.5 1123.2,432.0 1122.8,431.5 1122.5,431.0 1122.1,430.5 1121.8,430.1 1121.5,429.6 1121.2,429.1 1120.8,428.5 1120.5,428.0 1120.2,427.5 1119.9,427.0 1119.7,426.5 1119.4,425.9 1119.2,425.4 1119.0,424.8 1118.9,424.2 1118.8,423.6 1118.7,423.0 1118.6,422.4 1118.5,421.8 1118.5,421.2 1118.5,420.6 1118.6,419.9 1118.6,419.3 1118.7,418.7 1118.8,418.1 1118.9,417.5 1119.1,416.9 1119.2,416.3 1119.4,415.7 1119.6,415.1 1119.8,414.5" fill="#c2c674" fill-opacity="0.84"/>
<polygon points="904.7,604.4 904.9,604.2 905.1,604.0 905.4,603.8 905.6,603.6 905.8,603.3 906.1,603.1 906.3,602.9 906.5,602.7 906.8,602.5 907.0,602.3 907.2,602.1 907.5,601.9 907.7,601.7 908.0,601.5 908.2,601.3 908.4,601.1 908.7,601.0 908.9,600.8 909.2,600.6 909.4,600.4 909.7,600.2 910.0,600.0 910.2,599.9 910.5,599.7 910.7,599.5 911.0,599.3 911.2,599.2 911.5,599.0 911.8,598.8 912.0,598.7 912.3,598.5 912.6,598.4 912.8,598.2 913.1,598.1 913.4,597.9 913.7,597.8 913.9,597.6 914.2,597.5 914.5,597.3 914.8,597.2 922.9,613.3 922.6,613.1 922.2,612.8 921.9,612.5 921.5,612.3 921.2,612.0 920.8,611.7 920.4,611.4 920.0,611.1 919.6,610.8 919.2,610.5 918.8,610.2 918.3,609.8 917.9,609.5 917.4,609.2 916.9,608.8 916.4,608.5 915.9,608.2 915.4,607.8 914.8,607.5 914.3,607.1 913.7,606.8 913.2,606.5 912.6,606.1 912.1,605.8 911.5,605.5 910.9,605.2 910.3,605.0 909.8,604.7 909.2,604.5 908.7,604.3 908.1,604.1 907.6,604.0 907.1,603.9 906.7,603.8 906.3,603.8 905.9,603.8 905.5,603.9 905.2,604.0 904.9,604.2 904.7,604.4" fill="#a8a468" fill-opacity="0.84"/>
<polygon points="914.8,597.2 915.9,596.6 917.0,596.1 918.1,595.7 919.3,595.3 920.4,594.9 921.6,594.5 922.8,594.2 924.0,593.9 925.2,593.7 926.4,593.5 927.6,593.3 928.8,593.2 930.0,593.1 931.2,593.0 932.5,593.0 933.7,593.0 934.9,593.1 936.1,593.2 937.4,593.3 938.6,593.5 939.8,593.7 941.0,593.9 942.2,594.2 943.3,594.6 944.5,594.9 945.7,595.3 946.8,595.7 947.9,596.2 949.1,596.7 950.2,597.2 951.2,597.8 952.3,598.4 953.4,599.1 954.4,599.7 955.4,600.4 956.4,601.2 957.3,601.9 958.3,602.7 959.2,603.5 960.1,604.4 957.7,606.7 956.5,606.4 955.3,606.1 954.0,606.0 952.8,605.8 951.6,605.7 950.3,605.7 949.2,605.7 948.0,605.7 946.9,605.8 945.8,605.9 944.7,606.0 943.7,606.2 942.6,606.3 941.7,606.5 940.7,606.7 939.8,606.9 938.9,607.1 938.0,607.3 937.1,607.6 936.3,607.8 935.5,608.0 934.7,608.3 933.9,608.5 933.2,608.8 932.4,609.0 931.7,609.3 931.0,609.6 930.3,609.8 929.7,610.1 929.0,610.4 928.4,610.7 927.7,611.0 927.1,611.2 926.5,611.5 925.8,611.8 925.2,612.1 924.6,612.4 924.0,612.7 923.5,613.0 922.9,613.3" fill="#c2c674" fill-opacity="0.84"/>
<line x1="938.1" y1="191.5" x2="939.1" y2="192.6" class="ps"/>
<line x1="903.3" y1="197.8" x2="902.1" y2="203.7" class="pe"/>
<line x1="715.6" y1="363.0" x2="718.9" y2="359.5" class="ps"/>
<line x1="718.1" y1="416.6" x2="719.2" y2="417.6" class="ps"/>
<line x1="708.3" y1="397.3" x2="727.2" y2="406.4" class="pe"/>
<line x1="1119.8" y1="414.5" x2="1114.3" y2="415.5" class="pe"/>
<line x1="957.7" y1="606.7" x2="961.1" y2="603.3" class="ps"/>
<line x1="922.9" y1="613.3" x2="914.1" y2="595.8" class="pe"/>
<line x1="607.3" y1="221.3" x2="1070.0" y2="240.8" class="fr"/>
<line x1="607.3" y1="221.3" x2="628.5" y2="687.5" class="fr"/>
<line x1="1070.0" y1="240.8" x2="1091.5" y2="707.2" class="fr"/>
<line x1="628.5" y1="687.5" x2="1091.5" y2="707.2" class="fr"/>
<radialGradient id="s12" cx="0.5" cy="0.5" r="0.5" fx="0.5221183544303798" fy="0.5124411392405064"><stop offset="0" stop-color="#fcffcc"/><stop offset="0.05" stop-color="#f2ffc6"/><stop offset="0.11" stop-color="#d8ffa8"/><stop offset="0.18" stop-color="#a8ff79"/><stop offset="0.27" stop-color="#6dff45"/><stop offset="0.37" stop-color="#41ff19"/><stop offset="0.475" stop-color="#30e807"/><stop offset="0.61" stop-color="#2bd401"/><stop offset="0.75" stop-color="#28c201"/><stop offset="0.89" stop-color="#24ac01"/><stop offset="0.97" stop-color="#1a8d01"/><stop offset="1" stop-color="#147901"/></radialGradient><circle cx="607.3" cy="221.3" r="79.0" fill="url(#s12)" />
<radialGradient id="s13" cx="0.5" cy="0.5" r="0.5" fx="0.48990506329113925" fy="0.5110835443037974"><stop offset="0" stop-color="#fcffcc"/><stop offset="0.05" stop-color="#f2ffc6"/><stop offset="0.11" stop-color="#d8ffa8"/><stop offset="0.18" stop-color="#a8ff78"/><stop offset="0.27" stop-color="#6cff44"/><stop offset="0.37" stop-color="#40ff18"/><stop offset="0.475" stop-color="#2fe806"/><stop offset="0.61" stop-color="#2ad400"/><stop offset="0.75" stop-color="#27c200"/><stop offset="0.89" stop-color="#23ac00"/><stop offset="0.97" stop-color="#198c00"/><stop offset="1" stop-color="#137800"/></radialGradient><circle cx="1070.0" cy="240.8" r="79.0" fill="url(#s13)" />
<radialGradient id="s14" cx="0.5" cy="0.5" r="0.5" fx="0.5206424050632912" fy="0.4799841772151899"><stop offset="0" stop-color="#fcffd0"/><stop offset="0.05" stop-color="#f3ffca"/><stop offset="0.11" stop-color="#dbffae"/><stop offset="0.18" stop-color="#aeff82"/><stop offset="0.27" stop-color="#77ff52"/><stop offset="0.37" stop-color="#4eff29"/><stop offset="0.475" stop-color="#3eea18"/><stop offset="0.61" stop-color="#3ad713"/><stop offset="0.75" stop-color="#37c613"/><stop offset="0.89" stop-color="#33b213"/><stop offset="0.97" stop-color="#2a9413"/><stop offset="1" stop-color="#248213"/></radialGradient><circle cx="628.5" cy="687.5" r="79.0" fill="url(#s14)" />
<radialGradient id="s15" cx="0.5" cy="0.5" r="0.5" fx="0.4884082278481013" fy="0.4786126582278481"><stop offset="0" stop-color="#fcffcc"/><stop offset="0.05" stop-color="#f2ffc6"/><stop offset="0.11" stop-color="#d8ffa8"/><stop offset="0.18" stop-color="#a8ff78"/><stop offset="0.27" stop-color="#6cff44"/><stop offset="0.37" stop-color="#40ff18"/><stop offset="0.475" stop-color="#2fe806"/><stop offset="0.61" stop-color="#2ad400"/><stop offset="0.75" stop-color="#27c200"/><stop offset="0.89" stop-color="#23ac00"/><stop offset="0.97" stop-color="#198c00"/><stop offset="1" stop-color="#137800"/></radialGradient><circle cx="1091.5" cy="707.2" r="79.0" fill="url(#s15)" />
</svg>
</body>
</html>
